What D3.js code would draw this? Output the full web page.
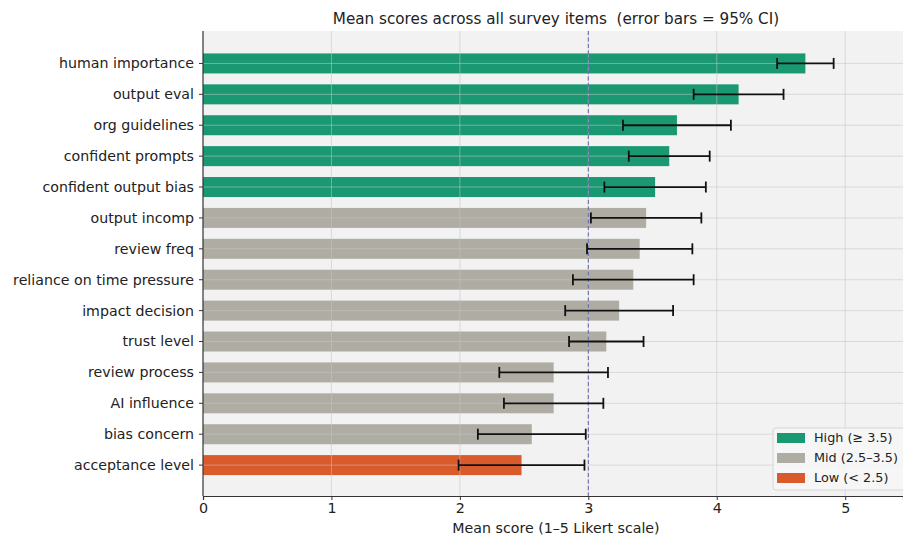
<!DOCTYPE html>
<html>
<head>
<meta charset="utf-8">
<script src="https://cdn.jsdelivr.net/npm/d3@7/dist/d3.min.js"></script>
<style>
  html, body { margin: 0; padding: 0; background: #ffffff; }
  svg { display: block; }
  text { font-family: "DejaVu Sans", sans-serif; fill: #222; white-space: pre; }
</style>
</head>
<body>
<svg id="chart" width="903" height="540"></svg>
<script>
// Survey items, sorted from highest to lowest mean
const items = [
  "human importance", "output eval", "org guidelines", "confident prompts",
  "confident output bias", "output incomp", "review freq",
  "reliance on time pressure", "impact decision", "trust level",
  "review process", "AI influence", "bias concern", "acceptance level"
];
// Mean Likert score per item
const means = [4.69, 4.17, 3.69, 3.63, 3.52, 3.45, 3.40, 3.35, 3.24, 3.14, 2.73, 2.73, 2.56, 2.48];
// Half-width of the 95% confidence interval per item
const ci95 = [0.22, 0.35, 0.42, 0.315, 0.395, 0.43, 0.41, 0.47, 0.42, 0.29, 0.423, 0.387, 0.42, 0.49];
const xTicks = [0, 1, 2, 3, 4, 5];
const legendLabels = ["High (\u2265 3.5)", "Mid (2.5\u20133.5)", "Low (< 2.5)"];
const neutralPoint = 3;

const colors = { high: "#1a9872", mid: "#afada3", low: "#d95a2b" };
const tier = v => v >= 3.5 ? "high" : (v >= 2.5 ? "mid" : "low");

const svg = d3.select("#chart");
const plotL = 203, plotR = 903, plotT = 31, plotB = 496;

const x = d3.scaleLinear().domain([0, 5.45]).range([plotL, plotR]);
// Continuous index scale so the plot keeps its margins above the first and below the last bar
const yIdx = d3.scaleLinear().domain([-1.05, 14]).range([plotT, plotB]);
const barH = 20;

// Plot background
svg.append("rect")
  .attr("x", plotL).attr("y", plotT)
  .attr("width", plotR - plotL).attr("height", plotB - plotT)
  .attr("fill", "#f2f2f2");

// Bars
svg.append("g").selectAll("rect")
  .data(items)
  .join("rect")
  .attr("x", x(0))
  .attr("y", (d, i) => yIdx(i) - barH / 2)
  .attr("width", (d, i) => x(means[i]) - x(0))
  .attr("height", barH)
  .attr("fill", (d, i) => colors[tier(means[i])]);

// Grid lines drawn over the bars
const grid = svg.append("g").attr("stroke", "#c4c4c4").attr("stroke-opacity", 0.55).attr("stroke-width", 1);
grid.selectAll("line.v").data(xTicks.slice(1)).join("line")
  .attr("class", "v")
  .attr("x1", d => x(d)).attr("x2", d => x(d))
  .attr("y1", plotT).attr("y2", plotB);
grid.selectAll("line.h").data(items).join("line")
  .attr("class", "h")
  .attr("x1", plotL).attr("x2", plotR)
  .attr("y1", (d, i) => yIdx(i)).attr("y2", (d, i) => yIdx(i));

// Neutral reference line
svg.append("line")
  .attr("x1", x(neutralPoint)).attr("x2", x(neutralPoint))
  .attr("y1", plotT).attr("y2", plotB)
  .attr("stroke", "#6b6bb0").attr("stroke-width", 1.1)
  .attr("stroke-dasharray", "4,2.5");

// Error bars (95% CI)
const err = svg.append("g").attr("stroke", "#111").attr("stroke-width", 1.8);
items.forEach((d, i) => {
  const yc = yIdx(i);
  const lo = x(means[i] - ci95[i]), hi = x(means[i] + ci95[i]);
  err.append("line").attr("x1", lo).attr("x2", hi).attr("y1", yc).attr("y2", yc);
  err.append("line").attr("x1", lo).attr("x2", lo).attr("y1", yc - 5.5).attr("y2", yc + 5.5);
  err.append("line").attr("x1", hi).attr("x2", hi).attr("y1", yc - 5.5).attr("y2", yc + 5.5);
});

// X axis
const xAxis = svg.append("g")
  .attr("transform", `translate(0,${plotB})`)
  .call(d3.axisBottom(x).tickValues(xTicks).tickFormat(d3.format("d")).tickSize(4).tickPadding(3));
xAxis.select(".domain").attr("stroke", "#333").attr("stroke-width", 1.2);
xAxis.selectAll(".tick line").attr("stroke", "#333");
xAxis.selectAll("text").attr("font-size", 14.3).attr("fill", "#222").attr("font-family", "DejaVu Sans");

// Y axis (category labels)
const yAxis = svg.append("g")
  .attr("transform", `translate(${plotL},0)`);
yAxis.append("line")
  .attr("x1", 0).attr("x2", 0).attr("y1", plotT).attr("y2", plotB)
  .attr("stroke", "#333").attr("stroke-width", 1.2);
const yt = yAxis.selectAll("g.tick").data(items).join("g")
  .attr("class", "tick")
  .attr("transform", (d, i) => `translate(0,${yIdx(i)})`);
yt.append("line").attr("x1", -4).attr("x2", 0).attr("stroke", "#333");
yt.append("text")
  .attr("x", -9).attr("dy", "0.35em")
  .attr("text-anchor", "end")
  .attr("font-size", 14.2)
  .text(d => d);

// Title and axis label
svg.append("text")
  .attr("x", 556).attr("y", 24)
  .attr("text-anchor", "middle").attr("font-size", 15.2)
  .text("Mean scores across all survey items  (error bars = 95% CI)");
svg.append("text")
  .attr("x", 556).attr("y", 533)
  .attr("text-anchor", "middle").attr("font-size", 14.2)
  .text("Mean score (1\u20135 Likert scale)");

// Legend
const lg = svg.append("g").attr("transform", "translate(773,428)");
lg.append("rect")
  .attr("width", 140).attr("height", 62).attr("rx", 3)
  .attr("fill", "#f7f7f7").attr("fill-opacity", 0.85)
  .attr("stroke", "#d6d6d6");
const lgTiers = ["high", "mid", "low"];
const row = lg.selectAll("g.row").data(legendLabels).join("g")
  .attr("class", "row")
  .attr("transform", (d, i) => `translate(4,${5 + i * 20})`);
row.append("rect")
  .attr("width", 28).attr("height", 10)
  .attr("fill", (d, i) => colors[lgTiers[i]]);
row.append("text")
  .attr("x", 37).attr("y", 5).attr("dy", "0.35em")
  .attr("font-size", 12.8)
  .text(d => d);
</script>
</body>
</html>
